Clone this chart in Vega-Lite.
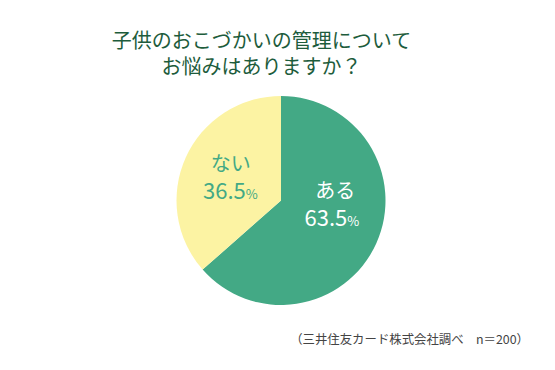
{
  "$schema": "https://vega.github.io/schema/vega-lite/v6.json",
  "width": 555,
  "height": 370,
  "padding": 0,
  "autosize": {"type": "none"},
  "background": "#ffffff",
  "config": {
    "view": {"stroke": "#43a985", "strokeWidth": 3},
    "font": "Noto Sans CJK JP"
  },
  "title": {
    "text": ["子供のおこづかいの管理について", "お悩みはありますか？"],
    "anchor": "middle",
    "frame": "group",
    "offset": 0,
    "dy": 78,
    "dx": -16,
    "fontSize": 20,
    "fontWeight": 400,
    "lineHeight": 26,
    "color": "#1d5c3c",
    "font": "Noto Sans CJK JP"
  },
  "layer": [
    {
      "data": {"values": [
        {"label": "ある", "value": 63.5, "num": "63.5", "pct": "%"},
        {"label": "ない", "value": 36.5, "num": "36.5", "pct": "%"}
      ]},
      "encoding": {
        "theta": {"field": "value", "type": "quantitative", "stack": true},
        "order": {"field": "value", "sort": "descending"}
      },
      "layer": [
        {
          "mark": {"type": "arc", "radius": 104.5, "x": {"expr": "width/2 + 3.5"}, "y": {"expr": "height/2 + 15.5"}},
          "encoding": {
            "color": {"field": "label", "type": "nominal", "legend": null,
              "scale": {"domain": ["ある", "ない"], "range": ["#43a985", "#fcf3a3"]}}
          }
        },
        {
          "mark": {"type": "text", "radius": 54, "x": {"expr": "width/2 + 3.5"}, "y": {"expr": "height/2 + 15.5"},
            "fontSize": 20, "align": "center", "baseline": "middle",
            "dx": {"expr": "datum.label === 'ある' ? 5 : -1"},
            "dy": {"expr": "datum.label === 'ある' ? -31 : -13"}},
          "encoding": {
            "text": {"field": "label"},
            "color": {"condition": {"test": "datum.label === 'ある'", "value": "#ffffff"}, "value": "#43a985"}
          }
        },
        {
          "mark": {"type": "text", "radius": 54, "x": {"expr": "width/2 + 3.5"}, "y": {"expr": "height/2 + 15.5"},
            "fontSize": 22, "align": "right", "baseline": "alphabetic",
            "dx": {"expr": "datum.label === 'ある' ? 17 : 14"},
            "dy": {"expr": "datum.label === 'ある' ? 3 : 21"}},
          "encoding": {
            "text": {"field": "num"},
            "color": {"condition": {"test": "datum.label === 'ある'", "value": "#ffffff"}, "value": "#43a985"}
          }
        },
        {
          "mark": {"type": "text", "radius": 54, "x": {"expr": "width/2 + 3.5"}, "y": {"expr": "height/2 + 15.5"},
            "fontSize": 13, "align": "left", "baseline": "alphabetic",
            "dx": {"expr": "datum.label === 'ある' ? 17 : 14"},
            "dy": {"expr": "datum.label === 'ある' ? 3 : 21"}},
          "encoding": {
            "text": {"field": "pct"},
            "color": {"condition": {"test": "datum.label === 'ある'", "value": "#ffffff"}, "value": "#43a985"}
          }
        }
      ]
    },
    {
      "data": {"values": [{"note": "（三井住友カード株式会社調べ　n＝200）"}]},
      "mark": {"type": "text", "x": {"expr": "width - 26"}, "y": {"expr": "height - 30"},
        "align": "right", "baseline": "middle", "fontSize": 12.4, "color": "#444444"},
      "encoding": {"text": {"field": "note"}}
    }
  ]
}
